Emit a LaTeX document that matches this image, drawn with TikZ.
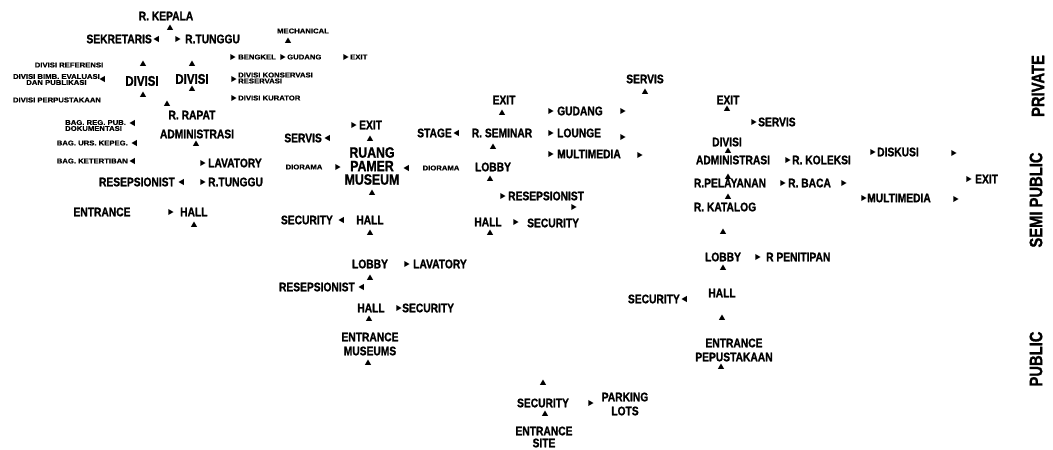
\documentclass[tikz,border=0pt]{standalone}
\usepackage{fontspec}
\newfontfamily\condfont[FakeStretch=0.82,FakeBold=1.2]{Liberation Sans}
\newfontfamily\widefont[FakeStretch=1.1,FakeBold=0.8]{Liberation Sans}
\usetikzlibrary{shapes.geometric}

\begin{document}
\begin{tikzpicture}[x=1pt,y=-1pt,
lbl/.style={inner sep=0pt,align=center,font=\condfont\bfseries\fontsize{12.5}{14}\selectfont},
big/.style={inner sep=0pt,align=center,font=\condfont\bfseries\fontsize{15}{13.5}\selectfont},
tiny/.style={inner sep=0pt,font=\widefont\bfseries\fontsize{7}{6}\selectfont},
zone/.style={inner sep=0pt,rotate=90,font=\condfont\bfseries\fontsize{18}{18}\selectfont},
tri/.style={regular polygon,regular polygon sides=3,fill,inner sep=0pt,minimum size=7pt},
tup/.style={tri}, tright/.style={tri,shape border rotate=-90}, tleft/.style={tri,shape border rotate=90}]
\useasboundingbox (0,0) rectangle (1053,450);

% zones
\node(private)[zone] at (1038,86){PRIVATE};
\node(semipublic)[zone] at (1036,200){SEMI PUBLIC};
\node(public)[zone] at (1036,359){PUBLIC};

% kantor / administrasi
\node(kepala)[lbl] at (166,16){R. KEPALA};
\node(sekretaris)[lbl,anchor=east] at (152,39){SEKRETARIS};
\node(tunggu)[lbl,anchor=west] at (185,39){R.TUNGGU};
\node(mechanical)[tiny] at (303,31){MECHANICAL};
\node(bengkel)[tiny,anchor=west] at (238,57){BENGKEL};
\node(gudang)[tiny,anchor=west] at (287,57){GUDANG};
\node(exitmech)[tiny,anchor=west] at (350,57){EXIT};
\node(divref)[tiny] at (69,65){DIVISI REFERENSI};
\node(divbimb)[tiny,align=center,anchor=east] at (100,79.5){DIVISI BIMB. EVALUASI\\DAN PUBLIKASI};
\node(divisia)[lbl,font=\condfont\bfseries\fontsize{14}{14}\selectfont] at (142,81){DIVISI};
\node(divisib)[lbl,font=\condfont\bfseries\fontsize{14}{14}\selectfont] at (192,79){DIVISI};
\node(konservasi)[tiny,align=left,anchor=west] at (238,78){DIVISI KONSERVASI\\RESERVASI};
\node(divperp)[tiny] at (57,100){DIVISI PERPUSTAKAAN};
\node(kurator)[tiny,anchor=west] at (238,98){DIVISI KURATOR};
\node(rapat)[lbl] at (192,115){R. RAPAT};
\node(bagreg)[tiny,align=left,anchor=west] at (65,125.5){BAG. REG. PUB.\\DOKUMENTASI};
\node(admin)[lbl] at (197,134){ADMINISTRASI};
\node(bagurs)[tiny,anchor=east] at (128,143){BAG. URS. KEPEG.};
\node(bagket)[tiny,anchor=east] at (128,161){BAG. KETERTIBAN};
\node(lavatorya)[lbl,anchor=west] at (208,163){LAVATORY};
\node(resepa)[lbl,anchor=east] at (175,182){RESEPSIONIST};
\node(tunggub)[lbl,anchor=west] at (208,182){R.TUNGGU};
\node(entrancea)[lbl] at (102,212){ENTRANCE};
\node(halla)[lbl,anchor=west] at (180,212){HALL};

% museum
\node(servisb)[lbl,anchor=east] at (322,138){SERVIS};
\node(exitb)[lbl,anchor=west] at (359,125){EXIT};
\node(ruang)[big] at (372,166){RUANG\\PAMER\\MUSEUM};
\node(dioramal)[tiny] at (304,167){DIORAMA};
\node(dioramar)[tiny] at (441,168){DIORAMA};
\node(securityb)[lbl,anchor=east] at (333,220){SECURITY};
\node(hallb)[lbl] at (370,220){HALL};
\node(lobbyb)[lbl] at (370,264){LOBBY};
\node(lavatoryb)[lbl,anchor=west] at (413,264){LAVATORY};
\node(resepb)[lbl,anchor=east] at (355,287){RESEPSIONIST};
\node(hallc)[lbl] at (371,308){HALL};
\node(securityc)[lbl,anchor=west] at (402,308){SECURITY};
\node(entranceb)[lbl] at (370,344){ENTRANCE\\MUSEUMS};

% seminar
\node(exitc)[lbl] at (504,100){EXIT};
\node(stage)[lbl,anchor=east] at (452,133){STAGE};
\node(seminar)[lbl] at (502,133){R. SEMINAR};
\node(lobbyc)[lbl] at (493,167){LOBBY};
\node(resepc)[lbl,anchor=west] at (508,196){RESEPSIONIST};
\node(halld)[lbl] at (488,222){HALL};
\node(securityd)[lbl,anchor=west] at (527,223){SECURITY};
\node(gudangb)[lbl,anchor=west] at (557,111){GUDANG};
\node(lounge)[lbl,anchor=west] at (557,133){LOUNGE};
\node(multimediaa)[lbl,anchor=west] at (557,154){MULTIMEDIA};
\node(servisc)[lbl] at (645,79){SERVIS};

% site
\node(securitye)[lbl] at (543,403){SECURITY};
\node(parking)[lbl] at (625,404){PARKING\\LOTS};
\node(entrancec)[lbl,font=\condfont\bfseries\fontsize{12.5}{12}\selectfont] at (544,437){ENTRANCE\\SITE};

% perpustakaan
\node(exitd)[lbl] at (728,100){EXIT};
\node(servisd)[lbl,anchor=west] at (758,122){SERVIS};
\node(divisic)[lbl] at (727,142){DIVISI};
\node(adminb)[lbl] at (733,160){ADMINISTRASI};
\node(koleksi)[lbl,anchor=west] at (792,160){R. KOLEKSI};
\node(pelayanan)[lbl] at (730,183){R.PELAYANAN};
\node(baca)[lbl,anchor=west] at (788,183){R. BACA};
\node(katalog)[lbl] at (725,207){R. KATALOG};
\node(lobbyd)[lbl] at (723,257){LOBBY};
\node(penitipan)[lbl,anchor=west] at (766,257){R PENITIPAN};
\node(halle)[lbl] at (722,293){HALL};
\node(securityf)[lbl,anchor=east] at (680,299){SECURITY};
\node(entranced)[lbl] at (734,350){ENTRANCE\\PEPUSTAKAAN};
\node(diskusi)[lbl,anchor=west] at (877,152){DISKUSI};
\node(exite)[lbl,anchor=west] at (975,179){EXIT};
\node(multimediab)[lbl,anchor=west] at (867,198){MULTIMEDIA};

% markers
\foreach \x/\y [count=\i] in {170/28,288/41,143/64,192/64,192/89,143/95,167/104,196/144,194/225,
  370/139,372/193,370/233,370/278,369/319,368/363,502/113,493/147,490/179,490/233,645/92,
  543/383,545/414,727/109,728/151,728/177,728/197,723/232,723/268,722/318,721/367}
  \node(u\i)[tup] at (\x,\y){};
\foreach \x/\y [count=\i] in {177/39,232/57,282/57,345/57,233/79,233/98,202/163,202/182,170/212,
  353/125,337/167,406/264,398/308,502/196,573/207,515/222,550/111,622/111,550/133,622/137,
  550/154,639/155,590/403,753/122,787/160,782/183,843/183,757/257,872/152,953/153,968/179,
  863/198,955/199}
  \node(r\i)[tright] at (\x,\y){};
\foreach \x/\y [count=\i] in {157/39,103/79,133/123,135/143,133/161,182/182,328/138,407/168,
  342/220,362/287,457/133,685/299}
  \node(l\i)[tleft] at (\x,\y){};
\end{tikzpicture}
\end{document}
